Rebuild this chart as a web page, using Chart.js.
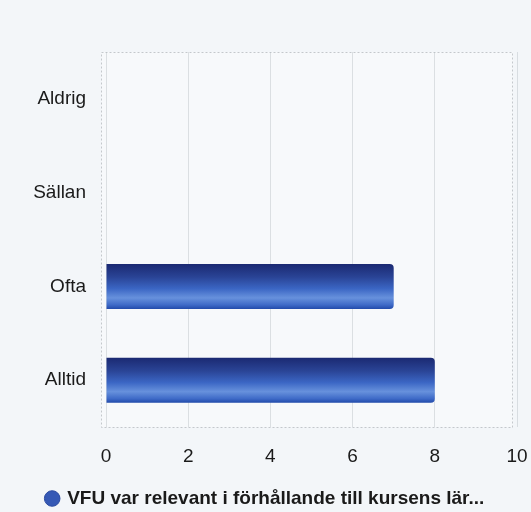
<!DOCTYPE html>
<html>
<head>
<meta charset="utf-8">
<script src="https://cdn.jsdelivr.net/npm/chart.js@4/dist/chart.umd.min.js"></script>
<style>
html,body{margin:0;padding:0;background:#f3f6f9;}
#wrap{width:531px;height:512px;position:relative;}
</style>
</head>
<body>
<div id="wrap"><canvas id="c" width="531" height="512"></canvas></div>
<script>
const categories = ["Aldrig", "Sällan", "Ofta", "Alltid"];
const seriesLabel = "VFU var relevant i förhållande till kursens lär...";
const seriesValues = [0, 0, 7, 8];
const xTicks = [0, 2, 4, 6, 8, 10];

const frame = {
  id: 'frame',
  beforeDraw(chart) {
    const {ctx, chartArea: a} = chart;
    ctx.save();
    ctx.fillStyle = '#f7f9fb';
    ctx.fillRect(a.left - 5, a.top, a.right - a.left + 1, a.bottom - a.top);
    ctx.setLineDash([2, 2]);
    ctx.strokeStyle = '#c4c8cc';
    ctx.lineWidth = 1;
    ctx.strokeRect(a.left - 4.5, a.top + 0.5, a.right - a.left, a.bottom - a.top);
    ctx.restore();
  }
};

function barGradient(context) {
  const chart = context.chart;
  const y = chart.scales.y;
  if (!y || context.dataIndex === undefined) return '#3559b5';
  const c = y.getPixelForValue(context.dataIndex);
  const h = 46;
  const g = chart.ctx.createLinearGradient(0, c - h / 2, 0, c + h / 2);
  g.addColorStop(0, '#1a2870');
  g.addColorStop(0.3, '#2a4496');
  g.addColorStop(0.55, '#3b66c4');
  g.addColorStop(0.75, '#6791dc');
  g.addColorStop(0.9, '#3f6bc8');
  g.addColorStop(1, '#1f48a8');
  return g;
}

new Chart(document.getElementById('c'), {
  type: 'bar',
  data: {
    labels: categories,
    datasets: [{
      label: seriesLabel,
      data: seriesValues,
      backgroundColor: barGradient,
      borderWidth: 0,
      borderRadius: {topRight: 4, bottomRight: 4},
      borderSkipped: 'start',
      categoryPercentage: 0.5,
      barPercentage: 0.96
    }]
  },
  options: {
    indexAxis: 'y',
    responsive: false,
    animation: false,
    layout: {padding: {top: 52, right: 0, left: 0, bottom: -6}},
    scales: {
      x: {
        min: 0, max: 10,
        afterBuildTicks(s) { s.ticks = xTicks.map(v => ({value: v})); },
        grid: {color: 'rgba(185,190,196,0.45)', drawTicks: false},
        border: {display: false},
        ticks: {color: '#1a1a1a', padding: 18, font: {family: 'Liberation Sans, Arial', size: 19}},
        afterFit(s) { s.height = 52; s.paddingRight = 14; }
      },
      y: {
        grid: {display: false, drawTicks: false},
        border: {display: false},
        ticks: {color: '#1a1a1a', padding: 20, font: {family: 'Liberation Sans, Arial', size: 19}},
        afterFit(s) { s.width = 106; }
      }
    },
    plugins: {
      tooltip: {enabled: false},
      legend: {
        position: 'bottom',
        labels: {
          color: '#1a1a1a',
          usePointStyle: true,
          pointStyle: 'circle',
          boxWidth: 11,
          boxHeight: 11,
          padding: 10,
          font: {family: 'Liberation Sans, Arial', size: 19, weight: 'bold'},
          generateLabels(chart) {
            return chart.data.datasets.map((d, i) => ({
              text: d.label, fillStyle: '#3559b5', strokeStyle: '#2a4aa0',
              lineWidth: 1, pointStyle: 'circle', datasetIndex: i, fontColor: '#1a1a1a'
            }));
          }
        }
      }
    }
  },
  plugins: [frame]
});
</script>
</body>
</html>
